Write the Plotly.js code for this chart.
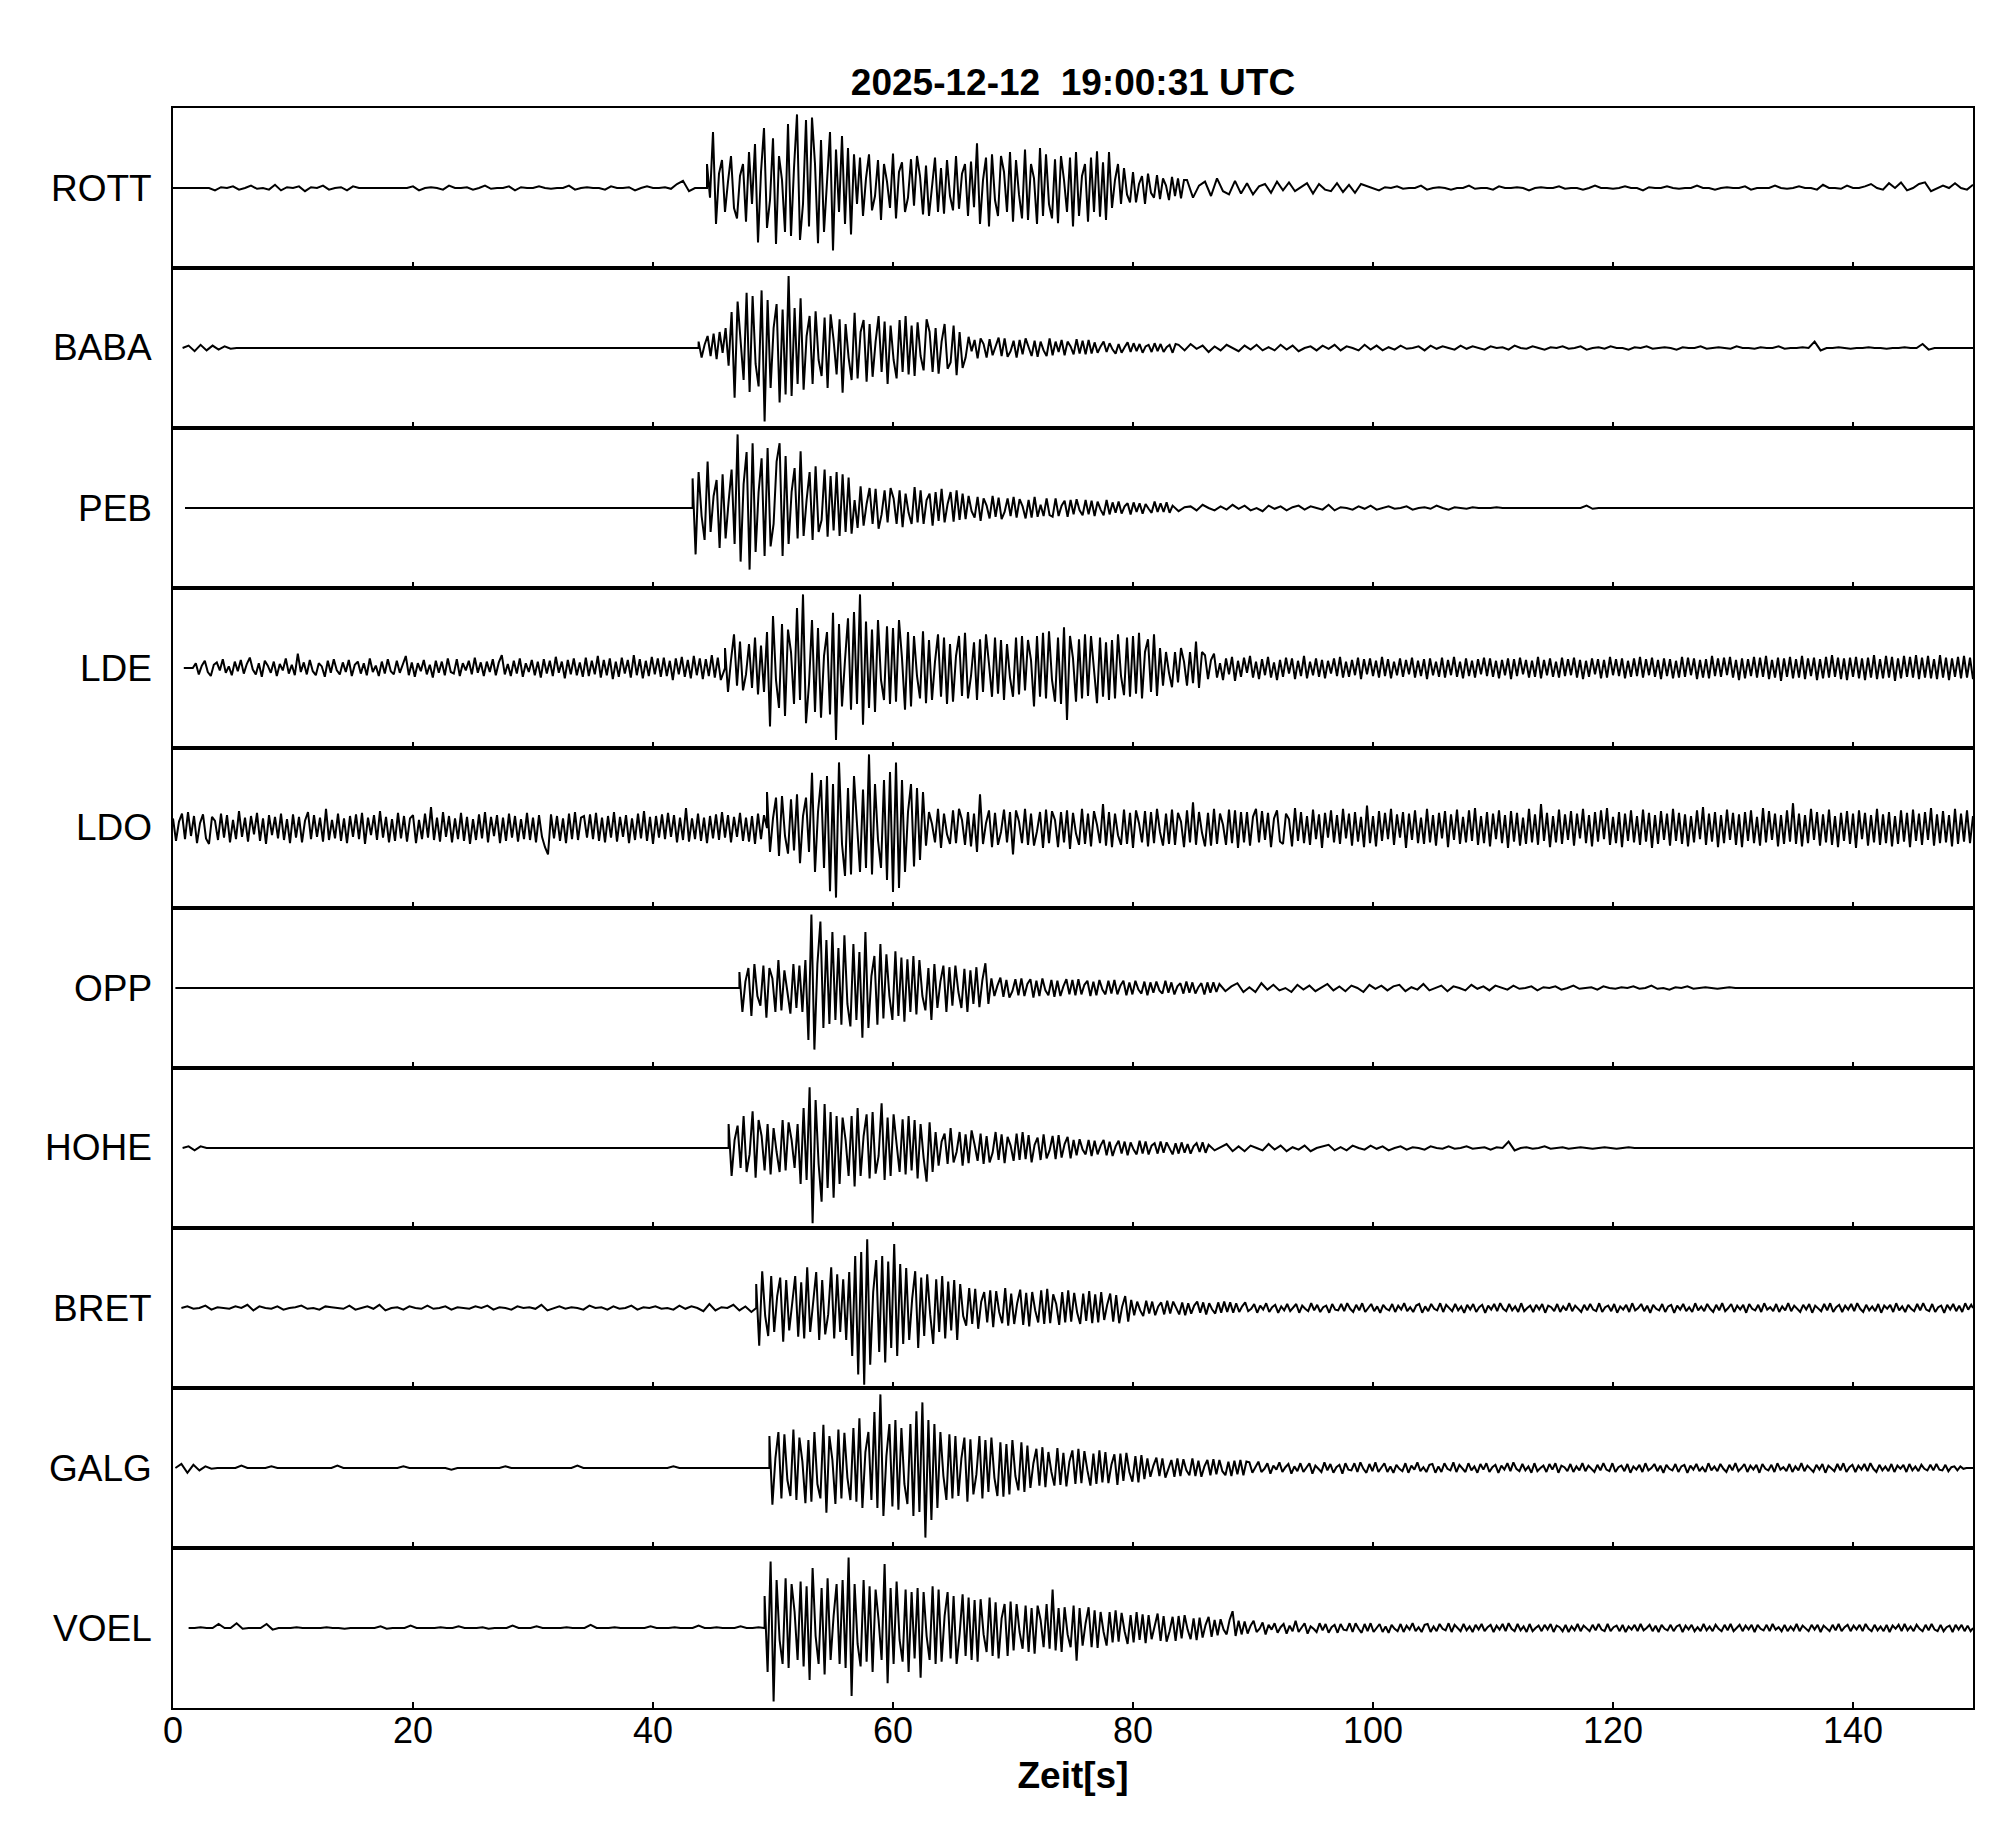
<!DOCTYPE html>
<html>
<head>
<meta charset="utf-8">
<script src="https://cdn.plot.ly/plotly-3.0.1.min.js"></script>
<style>html,body{margin:0;padding:0;background:#fff;}#chart{width:2005px;height:1841px;}</style>
</head>
<body>
<div id="chart"></div>
<script>
// ---- chart text ----
const chartTitle = "2025-12-12\u00a0 19:00:31 UTC";
const xTitle = "Zeit[s]";
const xTickVals = [0, 20, 40, 60, 80, 100, 120, 140];
const xRange = [0, 150];

// ---- stations (top to bottom) ----
const stations = ["ROTT", "BABA", "PEB", "LDE", "LDO", "OPP", "HOHE", "BRET", "GALG", "VOEL"];
// trace start time [s], first arrival [s], trace end time [s]
const traceStart = [0, 0.8, 1.0, 0.9, 0, 0.2, 0.8, 0.7, 0.2, 1.3];
const onsetTime  = [44.5, 43.8, 43.3, 46.0, 49.5, 47.2, 46.3, 48.6, 49.7, 49.3];
const traceEnd   = [150, 150, 150, 150, 150, 150, 150, 150, 150, 150];
// sample steps [s] per station: before onset, coda, tail
const preStep  = [0.5, 0.5, 0.5, 0.25, 0.25, 0.5, 0.5, 0.5, 0.5, 0.5];
const mainStep = [0.25, 0.25, 0.25, 0.25, 0.25, 0.25, 0.25, 0.25, 0.25, 0.25];
const postStep = [0.5, 0.5, 0.5, 0.25, 0.25, 0.5, 0.5, 0.25, 0.25, 0.25];

// amplitudes in % of half panel height
const ROTT_pre = [0,0,0,0,0,0,0,-3,1,0,2,-2,0,3,-1,0,-2,4,-3,1,0,2,-4,1,0,3,-2,0,1,-3,2,0,0,0,0,0,0,0,0,0,2,-3,0,1,0,-2,3,0,0,1,-2,0,3,-1,0,0,2,-3,1,0,0,2,0,-1,0,0,3,-2,0,1,0,0,-2,2,0,0,1,-3,0,2,0,0,1,-1,5,9,-4,0];
const ROTT_main = [30,-12,70,-45,18,35,-30,8,40,-25,-38,15,30,-42,45,-20,
55,-68,20,75,-50,-15,62,-70,40,10,-55,80,-60,25,92,-65,-20,85,-48,88,30,-69,60,-55,15,70,-78,48,-30,65,-45,50,
-58,42,-20,38,-35,12,42,-28,-10,35,-40,30,8,-25,43,-38,20,32,-30,-12,36,-22,40,15,-33,28,-35,5,38,-30,25,-32,35,-10,-28,40,-26,18,30,-35,33,
-24,56,-45,10,38,-48,42,-15,-35,40,20,-30,45,-42,35,-8,-38,48,-40,30,12,-45,50,-35,42,-20,-38,36,-44,40,10,-30,38,-48,45,-35,15,30,-42,38,-30,46,-36,32,-40,
45,-25,10,30,-20,25,-8,-18,
20,-18,5,15,-20,18,-6,-12,16,-14,12,3,-15,14,-10,12,-13,10];
const ROTT_post = [10,-12,3,8,-10,12,-4,-8,9,-7,6,-8,2,5,-6,8,-3,7,-4,1,6,-7,5,-2,-4,6,-5,4,-6,5,
2,0,-3,1,0,2,-1,0,0,3,-2,0,1,0,-2,0,0,3,-1,0,0,-2,2,0,0,1,0,-3,0,1,0,0,2,-1,0,0,-2,0,3,0,0,-1,0,2,0,0,-3,1,0,0,2,0,-1,0,0,3,0,0,-2,0,1,0,0,2,-2,0,0,0,3,0,-1,0,2,0,0,-2,4,0,0,-1,3,0,0,2,5,0,-2,6,0,7,-3,0,5,7,-4,0,3,0,6,0,-2,4];

const BABA_pre = [0,3,-4,4,-3,3,-2,2,-1,0];
const BABA_main = [8,-12,4,15,-10,18,-14,20,-6,25,
-22,45,-62,58,10,-40,69,-55,65,-20,-48,72,-92,60,-50,25,55,-68,48,-58,90,-60,
50,-45,62,-52,15,40,-45,46,-15,-35,38,-50,42,10,-33,36,-56,30,-12,-40,44,-38,20,35,-42,30,-36,8,40,-30,33,-45,28,-15,-38,35,-30,40,-33,28,
-35,32,-10,-28,36,20,-30,25,-32,8,30,-26,-18,28,-34,20,-25,
-12,14,-4,10,-13,12,5,-12,11,-9,3,13,-10,12,-11,-4,9,-12,10,-8,12,2,-10,9,-11,8,-3,-10,12,-9,8,-5,10,-9,8,2,-8,11,-7,9,-8,10,-7,
7,-6,2,8,-5,6,-2,-7,5,-6,1,7,-5,6,-4,5,-6,2,4,-5,6,-4,5,-5,1,4,-6,5];
const BABA_post = [4,-3,5,-1,3,-5,2,-3,4,0,-4,3,-2,4,-3,1,-3,4,-2,3,-4,0,2,-3,3,-1,4,-3,2,0,-3,4,-2,3,-3,1,-2,3,-1,0,2,-3,3,-1,2,0,-2,3,-1,2,0,-2,2,0,1,-2,3,0,-1,2,0,-2,1,0,2,-1,0,2,-2,0,1,-1,2,0,0,-2,1,0,2,-1,0,1,0,-2,1,0,0,2,-1,0,1,0,-1,2,0,0,-1,1,0,0,2,-1,0,0,1,0,8,-3,0,0,1,0,-1,0,0,1,0,0,-1,0,0,1,0,0,5,-2,0,0,0,0];

const PEB_pre = [0];
const PEB_main = [37,-58,45,-10,-40,58,-30,15,35,-50,42,-38,8,48,-45,
92,-67,30,70,-77,81,-55,20,62,-60,75,-48,-20,58,81,-60,
65,-45,20,50,-38,71,-35,10,45,-40,52,-30,-15,48,-36,40,-28,45,-35,
42,-30,38,-32,10,-25,27,-22,5,25,-20,24,-26,-8,22,-18,25,12,-20,22,-24,18,-6,-20,26,-18,22,-20,10,18,
-22,20,-16,24,-18,5,20,-17,22,-15,18,-14,15,-4,-12,14,-16,12,3,-13,15,-11,13,-14,-5,12,-10,14,-12,11,2,-13,10,-12,14,-11,4,-10,12,-9,
-11,12,-10,3,9,-11,10,-8,11,-3,-9,10,-8,9,-10,8,-2,-9,10,-8,7,-6,8,-7,2,6,-8,7,-5,6,-7,5,-1,-6,8,-5,6,-5,7,-6];
const PEB_post = [3,-4,1,2,-3,4,0,-3,2,-2,4,-1,3,-3,0,-4,3,-1,2,-3,1,3,-2,2,0,-2,4,-3,1,0,-2,2,-1,3,-2,0,2,-1,0,2,-2,0,1,-1,3,0,-2,1,0,-1,1,0,0,0,1,0,0,0,0,0,0,0,0,0,0,0,0,0,0,3,-1,0];

const LDE_pre = [0,0,0,0,6,-8,3,9,-5,-10,4,7,-3,11,-6,2,-9,8,-4,10,
-7,5,13,-2,-8,6,-11,9,3,-6,8,-10,5,-3,12,-7,4,-9,18,-5,
7,-8,10,-4,-9,6,2,-11,9,-6,11,-3,-8,7,-5,10,-10,4,8,-7,
6,-9,12,-5,3,-10,8,-7,11,-4,-8,9,-6,5,15,-9,7,-11,6,-4,
10,-8,4,-12,9,-6,8,-9,12,-5,-7,11,-10,6,-3,9,-8,13,-6,7,
-10,8,-5,11,-9,7,16,-8,5,-10,9,-7,12,-11,6,-5,10,-9,8,-12,
11,-7,9,-10,14,-6,8,-13,10,-8,12,-9,7,-11,13,-10,9,-8,15,-12,
10,-9,12,-14,8,-11,13,-7,10,-12,16,-9,11,-13,9,-10,14,-8,12,-11,
13,-10,9,-15,12,-8,14,-11,10,-13,15,-9,12,-14,11,-10,16,-12,13,-15];
const LDE_main = [25,-30,10,42,-22,33,-28,-8,30,-25,38,-33,
28,-30,45,-73,65,-15,-50,55,-60,48,20,-45,75,-40,92,-69,-20,60,-55,50,-62,15,45,-58,69,-90,55,-48,10,62,-52,70,-45,92,-71,58,-50,
48,-55,60,-15,-40,52,-45,50,-42,60,12,-52,45,-48,40,-10,-38,46,-44,35,-40,8,42,-36,38,-45,30,-42,15,40,-35,44,-38,-10,32,-40,36,-30,42,5,-36,38,-32,35,-40,30,-12,-36,38,-33,40,-28,35,10,-48,40,-36,44,-38,46,-15,-42,38,-45,51,-65,40,12,-42,36,-38,42,-35,40,-8,-44,38,-36,32,-40,35,-38,42,-10,-34,38,-36,40,
-32,44,-38,20,36,-30,42,-35,25,-22,20,-6,-24,20,-18,25,8,-22,20,-19,33,-25,20];
const LDE_post = [16,-14,10,18,-12,6,-15,12,-8,14,-16,9,-11,13,-6,15,-12,8,-14,11,
-9,14,-12,7,-15,10,-11,13,-7,12,-14,9,-10,15,-13,8,-9,12,-11,10,
-13,9,-7,12,-10,14,-12,8,-11,10,-9,13,-14,11,-8,12,-10,9,-12,14,
-10,11,-13,8,-9,12,-11,10,-8,13,-12,9,-10,11,-14,12,-9,8,-11,13,
-12,10,-9,14,-11,8,-13,12,-10,9,-12,11,-8,13,-10,12,-11,9,-13,10,
-9,12,-14,11,-10,13,-8,10,-12,9,-11,14,-13,10,-9,12,-11,8,-12,13,
-10,11,-9,13,-12,10,-14,9,-11,12,-8,11,-13,10,-12,14,-9,11,-10,12,
-13,9,-11,12,-10,14,-12,11,-9,13,-11,10,-14,12,-10,11,-13,9,-12,14,
-11,13,-9,12,-14,10,-12,11,-13,15,-10,12,-11,13,-9,14,-12,10,-15,12,
-13,11,-10,14,-12,13,-11,15,-14,10,-12,13,-16,12,-11,14,-13,11,-12,15,
-14,12,-10,13,-15,11,-13,14,-12,16,-11,13,-14,12,-15,13,-11,14,-13,12,
-15,13,-12,16,-14,11,-13,15,-12,14,-16,12,-13,15,-11,14,-12,16,-14,13,
-12,15,-13,11,-14,16,-12,13,-15,12,-11,14,-13,15,-12,13,-14,12,-13,11];

const LDO_pre = [12,-16,8,18,-14,20,-10,15,-19,6,17,-13,-20,14,9,-15,18,-12,16,-18,
10,-14,21,-11,13,-17,15,-8,19,-16,12,-20,16,-9,14,-13,18,-15,11,-19,
17,-12,14,-18,9,20,-14,16,-11,13,-17,24,-15,10,-13,18,-16,12,-19,15,
-11,17,-14,19,-20,13,-9,16,-15,21,-12,14,-18,11,-16,19,-13,15,-17,12,
16,-19,10,-14,18,-12,26,-15,13,-17,20,-11,15,-18,12,-14,19,-16,14,-20,
11,-15,17,-13,20,-18,14,-10,16,-19,13,-16,18,-12,15,-17,11,-14,19,-15,
13,-18,16,-11,-24,-33,17,-13,15,-16,12,-19,18,-14,20,-15,13,15,-12,17,
-14,19,-16,13,-18,15,-12,20,-17,14,-11,16,-19,12,-15,18,-13,21,-16,14,
-20,15,-12,17,-14,19,-11,16,-18,13,-15,25,-17,12,-14,18,-16,13,-19,15,
-13,17,-15,20,-12,16,-18,14,-11,19,-16,13,-17,15,-20,18,-14,16,-12,19];
const LDO_main = [45,-30,12,38,-35,40,-10,-32,36,-28,42,-44,15,38,
-30,69,-55,20,60,-50,65,-79,55,-87,82,-20,-60,50,-58,65,10,-55,48,-50,92,-58,55,-15,-50,60,-65,70,
-80,82,-75,60,-55,20,55,-48,50,-40,45,
-22,20,5,-18,24,-25,18,-8,-20,22,-19,24,10,-21,20,-23,18,-30,42,-20,6,22,-24,19,-21,-5,23,-18,20,-33,22,8,-19,24,-21,18,-22,-4,20,-25,23,-19,21,10,-24,20,-18,22,-26,19,-7,-21,24,-20,18,-23,21,4,-19,30,-22,20,-24,18,-9,-21,23,-20,19,-25,22,6,-18,21,-23,20,-19,24,-5,-22,18,-20,23,-21,19,8,-24,22,-18,32,-21,20,-6,-23,19,-22,24,-20,18,4,-21,23,-19,22,-25,20,-18];
const LDO_post = [20,-22,14,24,-18,21,-15,19,-24,12,22,-17,-20,18,11,-23,25,-16,20,-19,
15,-21,23,-14,17,-25,19,-12,22,-18,16,-20,24,-13,18,-22,20,-17,14,-24,
28,-19,15,-23,21,-16,19,-14,24,-21,17,-12,20,-25,18,-15,22,-19,13,-20,
24,-18,16,-22,19,-13,21,-24,17,-15,23,-20,14,-18,22,-16,25,-21,15,-19,
20,-23,18,-14,22,-19,16,-25,21,-17,19,-22,13,-20,24,-18,17,-21,30,-16,
19,-24,15,-18,23,-20,17,-15,21,-22,18,-13,24,-19,16,-23,20,-17,22,-14,
25,-21,14,-19,20,-24,18,-16,22,-18,15,-21,23,-17,19,-25,16,-20,21,-15,
18,-22,24,-16,19,-20,17,-23,15,-18,22,-14,26,-21,18,-17,20,-24,16,-19,
23,-15,19,-21,17,-24,20,-16,22,-19,14,-22,25,-18,21,-15,18,-23,16,-20,
22,-17,31,-20,18,-23,16,-19,24,-15,20,-22,17,-18,23,-21,15,-24,19,-16,
21,-20,18,-25,22,-14,19,-22,16,-18,24,-21,17,-19,20,-23,15,-20,22,-17,
19,-24,23,-16,18,-21,20,-15,25,-22,17,-19,21,-18,16,-23,24,-20,18,-17,
22,-19,15,-24,21,-17,23,-20,18,-16,20,-22,19,-18,24,-21,17,-19,22,-20];

const OPP_pre = [0];
const OPP_main = [20,-30,8,25,-35,30,-10,-22,28,-37,25,12,-30,35,-28,22,-5,-32,30,-25,28,-30,35,
-65,92,-77,30,83,-50,60,-45,70,-40,
50,-46,66,-20,-48,55,-40,45,-62,70,-50,15,40,-46,55,-38,42,-10,-40,46,-35,38,-42,36,-30,40,
-33,35,-10,-28,25,-40,30,-25,8,28,-30,26,-22,28,-5,-25,24,-30,22,-20,26,-24,10,31,-20,
12,-10,3,13,-11,10,-12,-4,11,-9,12,-10,5,11,-12,9,-10,12,-3,-9,10,-11,9,-10,2,11,-8,10,-9,11,-8,4,9,-10,8,-9,10,-2,-8,9,-7,10,-8,3,9,-9,7,-8,9,-2,-7,8,-9,7,-6,8,-3,-7,9,-6,7,-8,2,6,-7,8,-6,7,-7,1,6,-8,7,-6,7,-5];
const OPP_post = [5,-4,2,6,-5,1,-5,6,-2,4,-3,0,-5,4,-2,3,-4,1,5,-3,2,-4,3,0,-5,4,-1,3,-3,2,4,-4,1,-2,5,-3,0,3,-4,2,0,-3,4,-1,2,-3,3,0,-2,3,-1,0,2,-3,1,0,2,-2,0,3,-1,0,1,-2,2,0,-1,1,0,2,-1,0,3,-1,0,-2,1,0,2,-1,0,1,0,-1,0,1,0,0];

const HOHE_pre = [0,2,-3,2,0];
const HOHE_main = [30,-35,10,28,-25,40,-30,-8,46,-37,35,15,-28,30,-33,25,-5,-30,35,-28,32,10,-25,
30,-45,50,-40,76,-94,60,-20,-67,55,-50,45,-62,40,
-45,38,10,-35,40,-48,50,-35,15,42,-38,45,-32,-10,56,-40,38,-35,42,5,-30,36,-33,40,-28,
35,-38,30,-12,-42,32,-30,20,-22,8,18,-20,25,-18,-5,20,-22,17,-19,22,4,-16,18,-20,15,-18,-6,20,-15,17,-19,14,3,-16,18,-15,20,-14,
16,-18,4,13,-15,17,-13,-3,15,-14,16,-12,5,14,-13,10,-9,11,-2,-8,10,-10,9,-8,3,10,-9,8,-10,2,9,-7,8,-9,7,-2,-8,9,-7,8,-8,3,6,-7,8,-6,7,-1,-8,6,-7,7,-6,5,-7,2,6,-5,7,-6];
const HOHE_post = [4,-3,1,5,-4,2,-4,3,0,-3,5,-2,3,-4,1,-2,3,-4,0,2,4,-3,1,-3,3,0,-2,3,-1,2,-3,0,2,-2,1,0,-2,2,0,-1,2,-1,0,2,-1,0,1,-2,1,0,8,-3,0,1,-1,0,2,-1,0,1,-1,0,1,0,-1,0,1,0,-1,0,1,0];

const BRET_pre = [0,2,-1,0,3,-2,1,0,-1,2,0,4,-3,2,0,-1,2,-2,0,1,3,-1,0,-2,2,1,0,-1,3,-2,0,2,-1,4,-3,0,1,-2,2,0,-1,3,-1,0,2,-2,1,0,-1,2,0,3,-2,1,0,-2,2,0,1,-1,4,-3,0,2,-1,1,0,-2,3,0,1,-2,2,-1,0,3,-2,1,0,2,-1,0,-2,3,-1,2,0,-4,5,-3,1,0,4,-3,2,-5];
const BRET_main = [30,-47,46,-10,-35,40,-30,15,38,-42,35,-28,5,40,-36,32,-38,51,-30,12,45,-40,35,-33,-8,51,-38,42,-30,36,-40,
45,-60,65,-83,70,-96,86,-71,20,60,-55,65,-68,58,-50,80,-60,55,
-45,50,-40,12,46,-50,38,-35,42,-8,-45,36,-30,40,-38,33,
-28,35,-40,30,-10,-22,25,-20,24,-26,8,20,-18,22,-24,21,-5,-19,25,-22,18,-20,6,23,-21,19,-23,20,-3,-18,22,-20,24,-19,17,5,-21,20,-18,22,-17,19,-6,-20,18,-16,21,-19,17,-18,
20,-15,4,18,-17,16,-19,2,15,-17,10,-9,8,-3,-10,9,-7,8,-9,2,7,-8,9,-7,8,-1,-8,7,-9,6,-7,3,8,-6,7,-8,6,-2,-7,7,-6,8,-5,7,-6];
const BRET_post = [6,-5,2,7,-4,-1,5,-6,3,-2,6,-5,1,4,-6,2,-3,5,-4,0,
5,-6,3,-1,-4,6,-3,4,-5,1,3,-6,5,-2,-3,5,-4,6,-1,-5,
4,-3,6,-5,0,5,-4,2,-6,4,-1,-3,5,-5,3,-2,6,-4,1,-5,
3,5,-6,2,-4,5,-1,-3,6,-5,4,0,-4,5,-3,2,-6,4,-2,5,
-5,1,4,-6,3,-2,5,-4,6,-1,-4,5,-3,2,-5,6,-4,0,3,-5,
4,-2,5,-6,3,1,-4,5,-5,2,-3,6,-4,3,-1,-5,4,-3,5,-2,
-4,6,-5,1,3,-4,5,-6,2,-2,4,-5,6,-3,0,5,-4,3,-6,4,
-1,-3,5,-5,2,4,-6,3,-2,5,-4,1,-5,6,-3,2,-4,5,-1,-5,
4,-3,6,-4,0,5,-5,3,-2,4,-6,5,-1,-3,4,-5,6,-2,1,-4,
5,-5,2,-3,6,-4,3,-1,-5,4,-2,5,-6,3,0,-4,5,-3,6,-5,
1,4,-5,3,-2,5,-4,6,-1,-5,4,-3,2,-4,5,-6,3,-1,4,-5,
6,-3,2,-5,4,-1,-4,5,-3,6,-2,-4,5,-5,1,3,-6,4,-2,5,
-4,3,-5,6,-2,4];

const GALG_pre = [0,5,-6,4,-3,2,-1,0,0,0,0,3,0,0,0,0,2,0,0,0,0,0,0,0,0,0,0,3,0,0,0,0,0,0,0,0,0,0,2,0,0,0,0,0,0,0,-2,0,0,0,0,0,0,0,0,2,0,0,0,0,0,0,0,0,0,0,0,3,0,0,0,0,0,0,0,0,0,0,0,0,0,0,0,2,0,0,0,0,0,0,0,0,0,0,0,0,0,0,0];
const GALG_main = [40,-46,12,45,-38,42,-15,-35,48,-40,38,8,-44,35,-42,45,-20,-38,54,-56,40,10,-45,48,-38,44,-12,-40,50,-42,62,-50,20,45,
-40,70,-50,92,-60,15,55,-48,60,-52,50,-20,-45,55,-60,71,-55,82,-87,60,-65,
55,-50,45,-10,-40,42,-38,40,-35,12,38,-42,36,-33,-8,40,-38,35,-30,38,-12,-35,32,-36,
30,-33,35,-10,-28,32,-30,28,-25,6,24,-22,26,-24,20,-5,-22,25,-21,19,-23,8,22,-20,24,-19,21,-3,-22,18,-20,22,-18,
20,-19,4,17,-21,18,-16,19,-5,-17,15,-18,16,-14,12,-11,3,13,-10,12,-12,-2,10,-11,12,-10,11,-3,-9,12,-10,9,-11,2,10,-9,11,-8,10,-4,-9,8,-10,9,-8,10,-9,8];
const GALG_post = [7,-6,2,8,-5,-1,6,-7,3,-2,7,-5,1,5,-7,2,-4,6,-5,0,
6,-7,3,-1,-5,7,-3,5,-6,1,4,-7,6,-2,-3,6,-5,7,-1,-6,
5,-4,7,-5,0,6,-5,2,-6,4,-1,-4,6,-6,3,-2,7,-4,1,-5,
4,5,-6,2,-5,6,-1,-3,7,-5,4,0,-5,6,-3,2,-6,5,-2,6,
-5,1,4,-6,3,-2,6,-4,7,-1,-4,5,-3,2,-6,6,-4,0,3,-5,
5,-2,6,-6,3,1,-4,5,-5,2,-3,6,-4,3,-1,-5,4,-3,6,-2,
-4,6,-5,1,3,-4,5,-6,2,-2,4,-5,6,-3,0,5,-4,3,-6,4,
-1,-3,5,-5,2,4,-6,3,-2,5,-4,1,-5,6,-3,2,-4,5,-1,-5,
4,-3,6,-4,0,5,-5,3,-2,4,-6,5,-1,-3,4,-5,6,-2,1,-4,
5,-5,2,-3,6,-4,3,-1,-5,4,-2,5,-6,3,0,-4,5,-3,6,-5,
1,4,-5,3,-2,5,-4,6,-1,-5,4,-3,2,-4,5,-5,3,-1,4,-5,
5,-3,2,-4,4,-1,-3,4,-3,5,-2,-3,4,-4,1,2,-3,2,-1,0];

const VOEL_pre = [0,0,1,0,0,5,0,0,6,-1,0,0,0,5,-2,0,0,0,1,0,0,0,0,1,0,0,-1,0,0,0,0,0,2,-1,0,0,0,3,0,0,0,0,1,0,0,2,0,0,0,1,-1,0,0,0,3,0,0,0,2,0,0,0,0,1,0,0,0,4,0,0,0,1,0,0,0,0,0,2,0,0,0,1,0,0,0,3,0,0,1,0,0,0,2,0,0,1];
const VOEL_main = [40,-55,83,-92,60,-15,-45,62,-50,55,20,-40,58,-48,52,-65,75,-10,-45,50,-58,62,-40,15,55,-45,60,-50,88,-85,55,-20,-48,60,-42,52,-55,48,10,-40,80,-69,50,-45,58,-15,-42,48,-55,45,-38,
50,-62,45,-10,-40,52,-45,48,-42,15,45,-38,40,-45,-8,42,-35,38,-40,35,
-42,36,-8,-30,38,-35,32,-38,12,30,-35,33,-28,30,-5,-26,28,-30,25,-32,28,10,-24,30,-26,48,-28,
25,-30,26,-8,-24,28,-41,25,-22,6,26,-24,22,-25,20,-5,-22,20,-18,22,-17,19,-4,-20,16,-18,20,-15,17,-19,
16,-14,3,18,-16,15,-17,-4,14,-16,15,-13,16,-2,-14,12,-15,13,-12,4,14,-11,10,-9,11,-2,-8,10,21,-10,9,-8];
const VOEL_post = [8,-7,3,9,-5,-1,7,-8,4,-2,6,-6,1,5,-7,3,-4,9,-5,0,
6,-7,2,-1,-5,6,-3,5,-6,1,4,-6,5,-2,-3,6,-5,6,-1,-6,
5,-4,6,-5,0,5,-5,2,-6,4,-1,-4,5,-5,3,-2,6,-4,1,-5,
4,5,-5,2,-4,5,-1,-3,6,-5,4,0,-4,5,-3,2,-5,4,-2,5,
-4,1,4,-5,3,-2,5,-4,6,-1,-4,5,-3,2,-5,5,-4,0,3,-4,
4,-2,5,-5,3,1,-4,4,-5,2,-3,5,-4,3,-1,-4,4,-3,5,-2,
-4,5,-4,1,3,-4,4,-5,2,-2,4,-4,5,-3,0,4,-4,3,-5,4,
-1,-3,4,-4,2,4,-5,3,-2,4,-4,1,-4,5,-3,2,-4,4,-1,-4,
4,-3,5,-4,0,4,-4,3,-2,4,-5,4,-1,-3,4,-4,5,-2,1,-4,
4,-4,2,-3,5,-4,3,-1,-4,4,-2,4,-5,3,0,-4,4,-3,5,-4,
1,4,-4,3,-2,4,-4,5,-1,-4,4,-3,2,-4,4,-5,3,-1,4,-4,
5,-3,2,-4,4,-1,-4,4,-3,5,-2,-4,4,-4,1,3,-5,4,-2,4,
-4,3,-4,5];

const preData  = [ROTT_pre, BABA_pre, PEB_pre, LDE_pre, LDO_pre, OPP_pre, HOHE_pre, BRET_pre, GALG_pre, VOEL_pre];
const mainData = [ROTT_main, BABA_main, PEB_main, LDE_main, LDO_main, OPP_main, HOHE_main, BRET_main, GALG_main, VOEL_main];
const postData = [ROTT_post, BABA_post, PEB_post, LDE_post, LDO_post, OPP_post, HOHE_post, BRET_post, GALG_post, VOEL_post];

// ---- build traces ----
const N = stations.length;
const FONT = "Liberation Sans, Arial, Helvetica, sans-serif";
const traces = [];
const layout = {
  width: 2005, height: 1841,
  margin: {l: 173, r: 32, t: 108, b: 133, pad: 0},
  paper_bgcolor: "#ffffff", plot_bgcolor: "#ffffff",
  showlegend: false,
  font: {family: FONT, color: "#000", size: 36},
  title: {
    text: "<b>" + chartTitle + "</b>",
    font: {family: FONT, size: 37, color: "#000"},
    x: 0.5, xref: "paper", xanchor: "center",
    y: 1 - 82 / 1841, yref: "container", yanchor: "middle"
  },
  annotations: []
};

for (let k = 0; k < N; k++) {
  const xs = [], ys = [];
  const t0 = traceStart[k], ton = onsetTime[k];
  preData[k].forEach((v, i) => { const t = t0 + i * preStep[k]; if (t < ton) { xs.push(t); ys.push(v); } });
  xs.push(ton); ys.push(0);
  mainData[k].forEach((v, i) => { xs.push(ton + i * mainStep[k]); ys.push(v); });
  const tp = ton + mainData[k].length * mainStep[k];
  postData[k].forEach((v, i) => { const t = tp + i * postStep[k]; if (t <= traceEnd[k]) { xs.push(t); ys.push(v); } });
  const tLast = xs[xs.length - 1];
  if (tLast < traceEnd[k]) {
    xs.push(Math.min(tLast + postStep[k], traceEnd[k])); ys.push(0);
    xs.push(traceEnd[k]); ys.push(0);
  }

  const sfx = k === 0 ? "" : String(k + 1);
  traces.push({
    type: "scatter", mode: "lines", x: xs, y: ys,
    xaxis: "x" + sfx, yaxis: "y" + sfx,
    line: {color: "#000", width: 2}, hoverinfo: "skip"
  });

  const top = 1 - k / N, bot = 1 - (k + 1) / N;
  const isLast = k === N - 1;
  layout["xaxis" + sfx] = {
    domain: [0, 1], anchor: "y" + sfx, range: xRange,
    showline: true, mirror: true, linecolor: "#000", linewidth: 2,
    ticks: "inside", ticklen: 6, tickwidth: 2, tickcolor: "#000",
    tickvals: xTickVals, showticklabels: isLast,
    tickfont: {family: FONT, size: 36, color: "#000"},
    ticklabelstandoff: -10,
    showgrid: false, zeroline: false, fixedrange: true,
    title: isLast ? {text: "<b>" + xTitle + "</b>", font: {family: FONT, size: 37, color: "#000"}, standoff: 12} : {text: ""}
  };
  layout["yaxis" + sfx] = {
    domain: [bot, top], anchor: "x" + sfx, range: [-100, 100],
    showline: true, mirror: true, linecolor: "#000", linewidth: 2,
    ticks: "", showticklabels: false, showgrid: false, zeroline: false, fixedrange: true
  };
  layout.annotations.push({
    text: stations[k], xref: "paper", x: 0, xanchor: "right", xshift: -19,
    yref: "paper", y: (top + bot) / 2, yanchor: "middle",
    showarrow: false, font: {family: FONT, size: 37, color: "#000"}
  });
}

Plotly.newPlot("chart", traces, layout, {staticPlot: true, displayModeBar: false});
</script>
</body>
</html>
